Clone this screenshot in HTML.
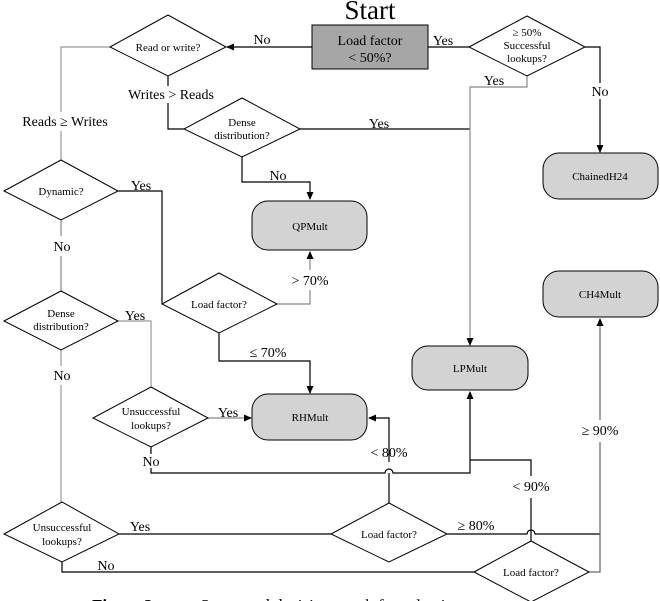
<!DOCTYPE html>
<html><head><meta charset="utf-8"><style>
html,body{margin:0;padding:0;background:#fff;}
svg{display:block;font-family:"Liberation Serif",serif;}
</style></head><body>
<svg width="660" height="601" viewBox="0 0 660 601" xmlns="http://www.w3.org/2000/svg">
<defs><marker id="a" markerWidth="8" markerHeight="8" refX="7" refY="4" orient="auto" markerUnits="userSpaceOnUse"><path d="M0,0.5 L8,4 L0,7.5z" fill="#000"/></marker></defs>
<g fill="none" stroke="#000" stroke-width="1.2">
<path d="M312,47 H227" marker-end="url(#a)"/>
<path d="M110,47 H61 V112 M61,131 V160" stroke="#999"/>
<path d="M168,76 V86 M168,103 V129 H184"/>
<path d="M300,129 H470"/>
<path d="M242,157 V182 H310 V199" marker-end="url(#a)"/>
<path d="M118,191 H162 V304"/>
<path d="M277,304 H310 V290 M310,270 V252" stroke="#888" marker-end="url(#a)"/>
<path d="M219,333 V361 H310 V393" marker-end="url(#a)"/>
<path d="M61,220 V236 M61,256 V291" stroke="#888"/>
<path d="M118,321 H151 V387" stroke="#999"/>
<path d="M61,350 V366 M61,385 V502" stroke="#999"/>
<path d="M208,418 H251" marker-end="url(#a)" stroke="#888"/>
<path d="M151,447 V454 M151,468 V473 H385 A4,4 0 0 1 393,473 H470 V392" marker-end="url(#a)"/>
<path d="M119,534 H331"/>
<path d="M62,562 V572 H474"/>
<path d="M389,503 V473 M389,462 V418 H369" marker-end="url(#a)"/>
<path d="M447,534 H527 A4,4 0 0 1 535,534 H600"/>
<path d="M531,541 V498 M531,476 V460 H470"/>
<path d="M589,572 H600 V442 M600,420 V319" stroke="#666" marker-end="url(#a)"/>
<path d="M428,47 H469"/>
<path d="M585,47 H600 V83 M600,99 V152" marker-end="url(#a)"/>
<path d="M527,76 V87 H470 V345" stroke="#888" marker-end="url(#a)"/>
</g>
<g fill="#fff" stroke="#000" stroke-width="1">
<path d="M110,47 L168,15 L226,47 L168,76z"/>
<path d="M184,129 L242,98 L300,129 L242,157z"/>
<path d="M4,191 L61,160 L118,191 L61,220z"/>
<path d="M162,304 L219,273 L277,304 L219,333z"/>
<path d="M4,321 L61,291 L118,321 L61,350z"/>
<path d="M93,418 L151,387 L208,418 L151,447z"/>
<path d="M4,534 L62,502 L119,534 L62,562z"/>
<path d="M331,534 L389,503 L447,534 L389,562z"/>
<path d="M474,572 L531,541 L589,572 L531,602z"/>
<path d="M469,47 L527,16 L585,47 L527,76z"/>
</g>
<rect x="312" y="25" width="116" height="44" fill="#a6a6a6" stroke="#000"/>
<g fill="#d3d3d3" stroke="#000" stroke-width="1">
<rect x="252" y="201" width="115" height="49" rx="16"/>
<rect x="252" y="394" width="115" height="46" rx="16"/>
<rect x="412" y="346" width="116" height="44" rx="16"/>
<rect x="543" y="271" width="115" height="46" rx="16"/>
<rect x="543" y="153" width="115" height="46" rx="16"/>
</g>
<g font-size="11" text-anchor="middle" fill="#000">
<text x="168" y="51">Read or write?</text>
<text x="242" y="126">Dense</text><text x="242" y="139">distribution?</text>
<text x="61" y="195">Dynamic?</text>
<text x="219" y="308">Load factor?</text>
<text x="61" y="317">Dense</text><text x="61" y="330">distribution?</text>
<text x="151" y="415">Unsuccessful</text><text x="151" y="429">lookups?</text>
<text x="62" y="531">Unsuccessful</text><text x="62" y="545">lookups?</text>
<text x="389" y="538">Load factor?</text>
<text x="531" y="576">Load factor?</text>
<text x="527" y="36">≥ 50%</text><text x="527" y="49">Successful</text><text x="527" y="62">lookups?</text>
<text x="310" y="230">QPMult</text>
<text x="310" y="421">RHMult</text>
<text x="470" y="372">LPMult</text>
<text x="600" y="298">CH4Mult</text>
<text x="600" y="180">ChainedH24</text>
</g>
<g font-size="14" text-anchor="middle" fill="#000">
<text x="370" y="19" font-size="27">Start</text>
<text x="370" y="45">Load factor</text><text x="370" y="62">&lt; 50%?</text>
<text x="262" y="44">No</text>
<text x="65" y="126">Reads ≥ Writes</text>
<text x="171" y="99">Writes &gt; Reads</text>
<text x="379" y="128">Yes</text>
<text x="278" y="180">No</text>
<text x="141" y="190">Yes</text>
<text x="310" y="285">&gt; 70%</text>
<text x="268" y="357">≤ 70%</text>
<text x="62" y="251">No</text>
<text x="135" y="320">Yes</text>
<text x="62" y="380">No</text>
<text x="228" y="417">Yes</text>
<text x="151" y="466">No</text>
<text x="140" y="531">Yes</text>
<text x="106" y="570">No</text>
<text x="389" y="457">&lt; 80%</text>
<text x="476" y="530">≥ 80%</text>
<text x="531" y="491">&lt; 90%</text>
<text x="600" y="435">≥ 90%</text>
<text x="443" y="45">Yes</text>
<text x="494" y="85">Yes</text>
<text x="600" y="96">No</text>
</g>
<text x="92" y="611" font-size="17" font-weight="bold" fill="#000">Figure 3:</text>
<text x="200" y="611" font-size="17" fill="#000">Suggested decision graph for selecting</text>
</svg>
</body></html>
